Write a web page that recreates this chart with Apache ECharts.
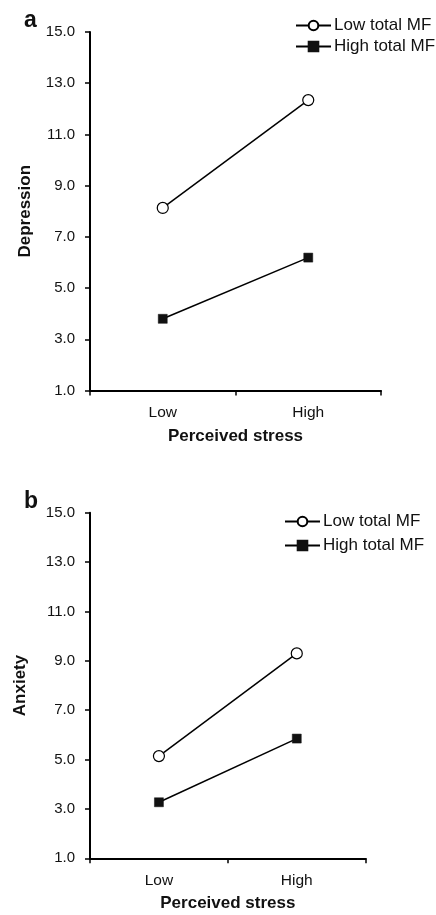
<!DOCTYPE html>
<html>
<head>
<meta charset="utf-8">
<script src="https://cdn.jsdelivr.net/npm/echarts@6/dist/echarts.min.js"></script>
<style>
html,body{margin:0;padding:0;background:#fff;}
#chart{width:436px;height:915px;}
</style>
</head>
<body>
<div id="chart"></div>
<script>
const categories = ['Low', 'High'];
const seriesNames = ['Low total MF', 'High total MF'];
const depressionLowMF = [8.13, 12.34];
const depressionHighMF = [3.80, 6.19];
const anxietyLowMF = [5.14, 9.30];
const anxietyHighMF = [3.27, 5.85];
const yMin = 1, yMax = 15, yStep = 2;
const xAxisTitle = 'Perceived stress';
const panelTitles = ['Depression', 'Anxiety'];
const panelLetters = ['a', 'b'];

const FONT = '"Liberation Sans", Arial, Helvetica, sans-serif';
const chart = echarts.init(document.getElementById('chart'), null, {renderer: 'canvas'});

function xAxis(gi, nameGap) {
  return {
    type: 'category', gridIndex: gi, data: categories, boundaryGap: true,
    axisLine: {lineStyle: {color: '#000', width: 2}},
    axisTick: {show: true, length: 5, inside: false, lineStyle: {color: '#000', width: 1.5}},
    axisLabel: {color: '#111', fontFamily: FONT, fontSize: 15.5, margin: 14},
    name: xAxisTitle, nameLocation: 'middle', nameGap: nameGap,
    nameTextStyle: {color: '#111', fontFamily: FONT, fontSize: 17, fontWeight: 'bold'},
    splitLine: {show: false}
  };
}
function yAxis(gi, name, nameGap) {
  return {
    type: 'value', gridIndex: gi, min: yMin, max: yMax, interval: yStep,
    axisLine: {show: true, lineStyle: {color: '#000', width: 2}},
    axisTick: {show: true, length: 5, lineStyle: {color: '#000', width: 1.5}},
    axisLabel: {color: '#111', fontFamily: FONT, fontSize: 15, margin: 15,
      formatter: v => v.toFixed(1)},
    splitLine: {show: false},
    name: name, nameLocation: 'middle', nameGap: nameGap,
    nameTextStyle: {color: '#111', fontFamily: FONT, fontSize: 17, fontWeight: 'bold'}
  };
}
function lineSeries(name, data, gi, open) {
  return {
    name: name, type: 'line', xAxisIndex: gi, yAxisIndex: gi, data: data,
    symbol: open ? 'circle' : 'rect', symbolSize: open ? 11 : 9,
    lineStyle: {color: '#000', width: 1.5},
    itemStyle: open ? {color: '#fff', borderColor: '#000', borderWidth: 1.2}
                    : {color: '#111', borderColor: '#111', borderWidth: 0.5},
    z: 3, animation: false
  };
}

chart.setOption({
  animation: false,
  backgroundColor: '#fff',
  title: [
    {text: panelLetters[0], left: 19, top: 4, textStyle: {fontFamily: FONT, fontSize: 23, fontWeight: 'bold', color: '#111'}},
    {text: panelLetters[1], left: 19, top: 485, textStyle: {fontFamily: FONT, fontSize: 23, fontWeight: 'bold', color: '#111'}}
  ],
  legend: [
    {left: 295, top: 17, padding: 0, orient: 'vertical', itemWidth: 35, itemHeight: 12, itemGap: 4,
     data: seriesNames, textStyle: {fontFamily: FONT, fontSize: 17, color: '#111', padding: [0,0,0,-2]}},
    {left: 284, top: 513, padding: 0, orient: 'vertical', itemWidth: 35, itemHeight: 12, itemGap: 7,
     data: seriesNames, textStyle: {fontFamily: FONT, fontSize: 17, color: '#111', padding: [0,0,0,-2]}}
  ],
  grid: [
    {left: 90, top: 32, width: 291, height: 358.5, containLabel: false},
    {left: 90, top: 512.7, width: 275.7, height: 345.6, containLabel: false}
  ],
  xAxis: [xAxis(0, 37), xAxis(1, 37)],
  yAxis: [yAxis(0, panelTitles[0], 56), yAxis(1, panelTitles[1], 61)],
  series: [
    lineSeries(seriesNames[0], depressionLowMF, 0, true),
    lineSeries(seriesNames[1], depressionHighMF, 0, false),
    lineSeries(seriesNames[0], anxietyLowMF, 1, true),
    lineSeries(seriesNames[1], anxietyHighMF, 1, false)
  ]
});
</script>
</body>
</html>
